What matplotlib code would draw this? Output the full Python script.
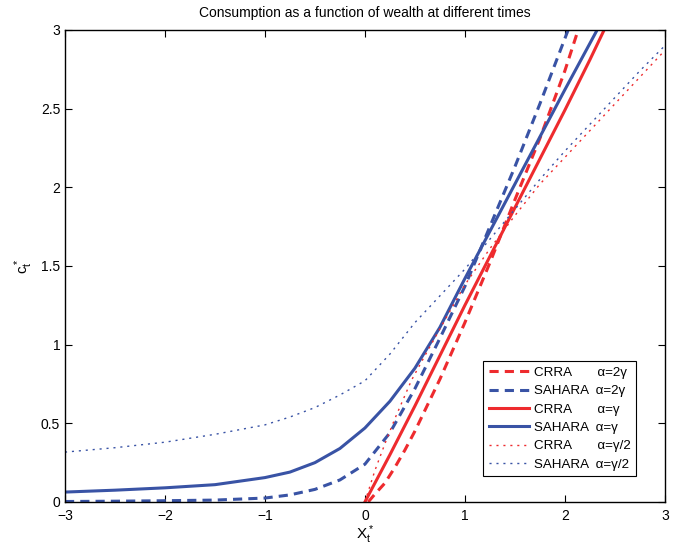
import matplotlib
matplotlib.use('Agg')
import matplotlib.pyplot as plt

# values
crra_2g_x = [0.033, 0.1, 0.2, 0.3, 0.4, 0.5, 0.75, 1.0, 1.25, 1.5, 1.75, 2.0, 2.133]
crra_2g_y = [0.0, 0.05, 0.12, 0.22, 0.33, 0.45, 0.78, 1.14, 1.52, 1.92, 2.31, 2.74, 3.0]

sahara_2g_x = [-3.0, -2.5, -2.0, -1.5, -1.0, -0.75, -0.5, -0.25, 0.0, 0.25, 0.5, 0.75, 1.0, 1.25, 1.5, 1.75, 2.033]
sahara_2g_y = [0.003, 0.005, 0.008, 0.012, 0.025, 0.045, 0.08, 0.14, 0.24, 0.44, 0.72, 1.04, 1.37, 1.75, 2.13, 2.53, 3.0]

crra_g_x = [0.0, 0.25, 0.5, 0.75, 1.0, 1.25, 1.5, 1.75, 2.0, 2.25, 2.393]
crra_g_y = [0.0, 0.3, 0.61, 0.93, 1.25, 1.56, 1.87, 2.18, 2.49, 2.81, 3.0]

sahara_g_x = [-3.0, -2.5, -2.0, -1.5, -1.0, -0.75, -0.5, -0.25, 0.0, 0.25, 0.5, 0.75, 1.0, 1.25, 1.5, 1.75, 2.0, 2.323]
sahara_g_y = [0.063, 0.075, 0.09, 0.11, 0.155, 0.19, 0.25, 0.34, 0.47, 0.64, 0.85, 1.11, 1.42, 1.72, 2.02, 2.32, 2.62, 3.0]

crra_g2_x = [0.0, 0.1, 0.2, 0.3, 0.467, 0.6, 0.75, 1.0, 1.25, 1.5, 1.75, 2.0, 2.25, 2.5, 2.75, 3.0]
crra_g2_y = [0.0, 0.2, 0.37, 0.53, 0.775, 0.93, 1.1, 1.38, 1.61, 1.82, 2.02, 2.19, 2.36, 2.53, 2.70, 2.87]

sahara_g2_x = [-3.0, -2.5, -2.0, -1.5, -1.0, -0.75, -0.5, -0.25, 0.0, 0.25, 0.5, 0.75, 1.0, 1.25, 1.5, 1.75, 2.0, 2.25, 2.5, 2.75, 3.0]
sahara_g2_y = [0.317, 0.345, 0.38, 0.43, 0.49, 0.54, 0.6, 0.68, 0.77, 0.94, 1.14, 1.31, 1.48, 1.67, 1.86, 2.05, 2.23, 2.4, 2.57, 2.74, 2.90]

xticks = [-3, -2, -1, 0, 1, 2, 3]
yticks = [0, 0.5, 1, 1.5, 2, 2.5, 3]
ytick_labels = ['0', '0.5', '1', '1.5', '2', '2.5', '3']

RED = '#ee2b2e'
BLUE = '#3953a5'

plt.rcParams['font.family'] = ['Liberation Sans', 'DejaVu Sans']
plt.rcParams['mathtext.fontset'] = 'custom'
plt.rcParams['mathtext.rm'] = 'Liberation Sans'
plt.rcParams['mathtext.it'] = 'Liberation Sans'
plt.rcParams['font.size'] = 10


def chart():
	fig = plt.figure(figsize=(6.77, 5.47), dpi=100)
	ax = fig.add_axes([0.096, 0.0823, 0.886, 0.8629])

	crra_sp = ' ' * 7
	ax.plot(crra_2g_x, crra_2g_y, color=RED, linewidth=2.2, dashes=(3, 2),
	        label='CRRA' + crra_sp + '\u03b1=2\u03b3')
	ax.plot(sahara_2g_x, sahara_2g_y, color=BLUE, linewidth=2.2, dashes=(3, 2),
	        label='SAHARA  \u03b1=2\u03b3')
	ax.plot(crra_g_x, crra_g_y, '-', color=RED, linewidth=2.2,
	        label='CRRA' + crra_sp + '\u03b1=\u03b3')
	ax.plot(sahara_g_x, sahara_g_y, '-', color=BLUE, linewidth=2.2,
	        label='SAHARA  \u03b1=\u03b3')
	ax.plot(crra_g2_x, crra_g2_y, color=RED, linewidth=1.0, dashes=(1.5, 3.5),
	        label='CRRA' + crra_sp + '\u03b1=\u03b3/2')
	ax.plot(sahara_g2_x, sahara_g2_y, color=BLUE, linewidth=1.0, dashes=(1.5, 3.5),
	        label='SAHARA  \u03b1=\u03b3/2')

	ax.set_xlim(-3, 3)
	ax.set_ylim(0, 3)
	ax.set_xticks(xticks)
	ax.set_yticks(yticks)
	ax.set_yticklabels(ytick_labels)
	ax.tick_params(direction='in', top=True, right=True, length=5, labelsize=10)
	ax.tick_params(axis='x', pad=5)
	for s in ax.spines.values():
		s.set_linewidth(1.0)

	ax.set_title('Consumption as a function of wealth at different times', fontsize=10, pad=9)
	ax.set_xlabel(r'$\mathrm{X}_t^*$', fontsize=11, labelpad=0)
	ax.set_ylabel(r'$\mathrm{c}_t^*$', fontsize=11, labelpad=4)

	leg = ax.legend(loc='lower right', bbox_to_anchor=(0.952, 0.055), borderaxespad=0,
	                fancybox=False, framealpha=1, edgecolor='black', handlelength=3.0,
	                labelspacing=0.45, borderpad=0.4, handletextpad=0.4, fontsize=9.6)
	leg.get_frame().set_linewidth(0.8)

	fig.savefig('out.png', dpi=100)


if __name__ == "__main__":
	chart()
